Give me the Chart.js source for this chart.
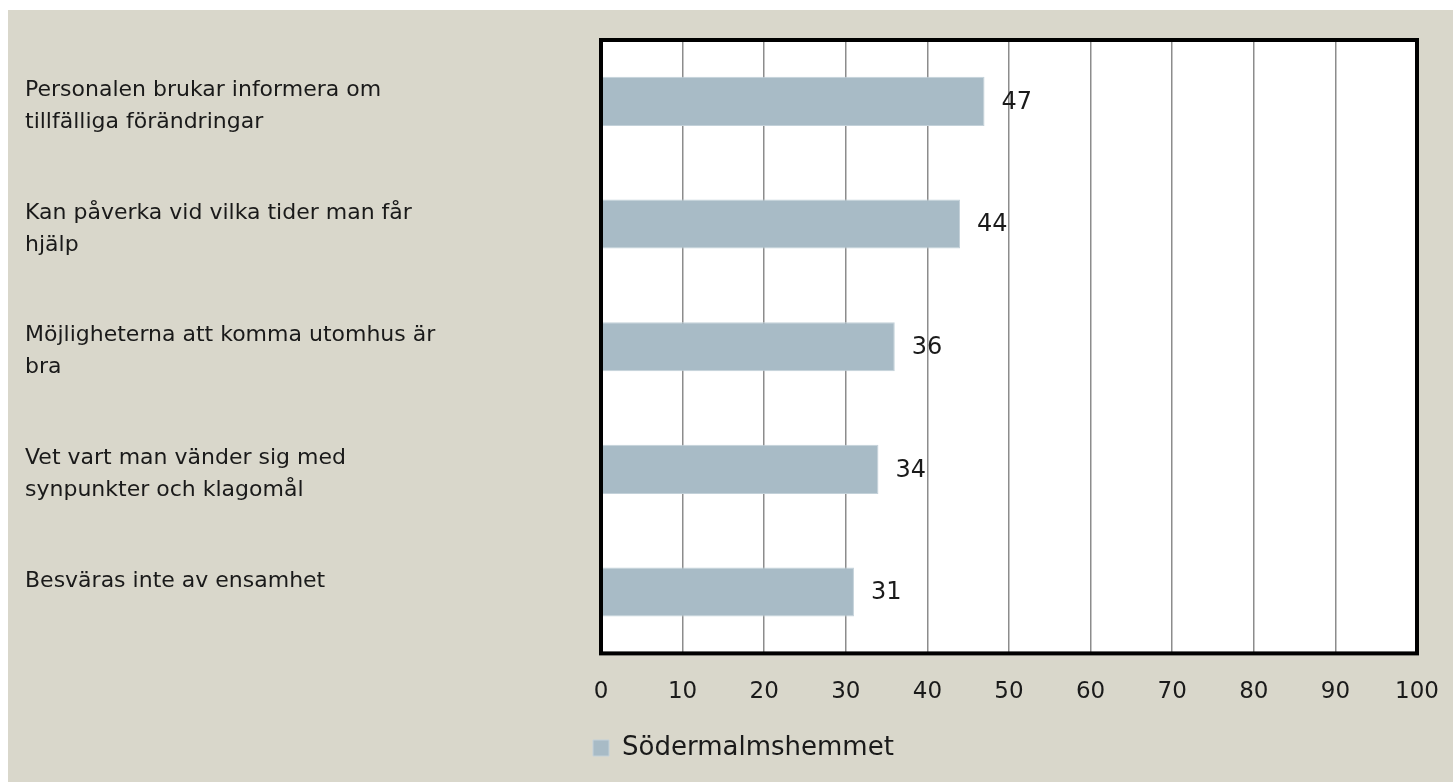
<!DOCTYPE html>
<html>
<head>
<meta charset="utf-8">
<script src="https://cdn.jsdelivr.net/npm/chart.js@4.4.1/dist/chart.umd.min.js"></script>
<style>
  html, body { margin: 0; padding: 0; background: #ffffff; }
  #wrap { position: absolute; left: 8px; top: 10px; width: 1445px; height: 772px; background: #D9D7CB; }
  canvas { display: block; }
</style>
</head>
<body>
<div id="wrap"><canvas id="c" width="1445" height="772"></canvas></div>
<script>
const categories = [
  ["Personalen brukar informera om", "tillfälliga förändringar"],
  ["Kan påverka vid vilka tider man får", "hjälp"],
  ["Möjligheterna att komma utomhus är", "bra"],
  ["Vet vart man vänder sig med", "synpunkter och klagomål"],
  ["Besväras inte av ensamhet", ""]
];
const seriesName = "Södermalmshemmet";
const values = [47, 44, 36, 34, 31];
const xTicks = [0, 10, 20, 30, 40, 50, 60, 70, 80, 90, 100];

const FONT = "'DejaVu Sans', sans-serif";
const TEXT = "#1a1a1a";

const plotBg = {
  id: 'plotBg',
  beforeDraw(chart) {
    const {ctx, chartArea: a} = chart;
    ctx.save();
    ctx.fillStyle = '#ffffff';
    ctx.fillRect(a.left, a.top, a.right - a.left, a.bottom - a.top);
    ctx.restore();
  }
};
const frame = {
  id: 'frame',
  afterDraw(chart) {
    const {ctx, chartArea: a} = chart;
    ctx.save();
    ctx.strokeStyle = '#000000';
    ctx.lineWidth = 4;
    ctx.strokeRect(a.left, a.top, a.right - a.left, a.bottom - a.top);
    ctx.restore();
  }
};
const valueLabels = {
  id: 'valueLabels',
  afterDatasetsDraw(chart) {
    const {ctx} = chart;
    chart.data.datasets.forEach((ds, di) => {
      const meta = chart.getDatasetMeta(di);
      meta.data.forEach((bar, i) => {
        ctx.save();
        ctx.font = "24px " + FONT;
        ctx.fillStyle = TEXT;
        ctx.textAlign = 'left';
        ctx.textBaseline = 'middle';
        ctx.fillText(String(ds.data[i]), bar.x + 17, bar.y + 1);
        ctx.restore();
      });
    });
  }
};
const legendShift = {
  id: 'legendShift',
  afterLayout(chart) {
    const lg = chart.legend;
    if (!lg) return;
    const pad = lg.options.labels.padding;
    const w = lg.right - lg.left;
    lg.left = chart.chartArea.left - 8 - pad;
    lg.right = lg.left + w;
  }
};

new Chart(document.getElementById('c'), {
  type: 'bar',
  data: {
    labels: categories,
    datasets: [{
      label: seriesName,
      data: values,
      backgroundColor: '#A8BBC6',
      borderColor: '#C3D1D9',
      borderWidth: 1,
      barPercentage: 0.4,
      categoryPercentage: 1.0
    }]
  },
  options: {
    indexAxis: 'y',
    responsive: false,
    animation: false,
    layout: { padding: { left: 17, right: 36, top: 30, bottom: 11 } },
    plugins: {
      legend: {
        position: 'bottom',
        align: 'start',
        labels: {
          font: { family: FONT, size: 26 },
          color: TEXT,
          boxWidth: 16,
          boxHeight: 16,
          padding: 3
        }
      },
      tooltip: { enabled: false }
    },
    scales: {
      x: {
        min: 0, max: 100,
        afterBuildTicks(scale) { scale.ticks = xTicks.map(v => ({ value: v })); },
        afterFit(scale) { scale.paddingRight = 0; scale.paddingLeft = 0; scale.height += 1; },
        grid: { color: '#8c8c8c', lineWidth: 1.5, drawTicks: false },
        border: { display: false },
        ticks: { font: { family: FONT, size: 23 }, color: TEXT, padding: 25, maxRotation: 0 }
      },
      y: {
        grid: { display: false, drawTicks: false },
        border: { display: false },
        afterFit(scale) { scale.width = 576; scale.paddingTop = 0; scale.paddingBottom = 0; },
        ticks: {
          crossAlign: 'far',
          labelOffset: 5,
          font: { family: FONT, size: 22, lineHeight: 1.45 },
          color: TEXT,
          padding: 0
        }
      }
    }
  },
  plugins: [plotBg, valueLabels, frame, legendShift]
});
</script>
</body>
</html>
